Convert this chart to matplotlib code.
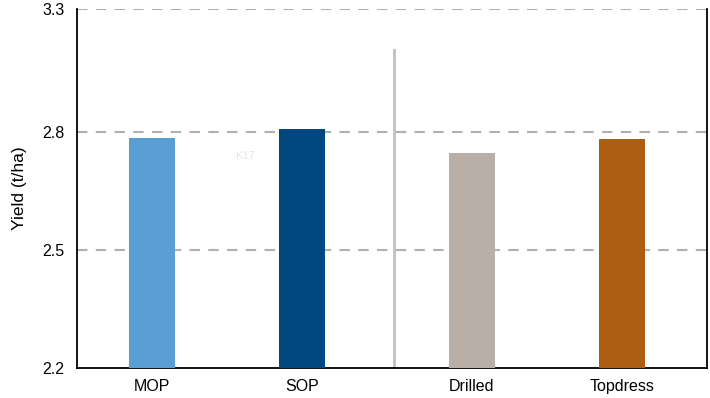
import numpy as np
import matplotlib.pyplot as plt

plt.rcParams['font.family'] = ['Liberation Sans', 'DejaVu Sans']

# ---------------- data ----------------
categories = ["MOP", "SOP", "Drilled", "Topdress"]
yields = [2.785, 2.808, 2.747, 2.782]
colors = ["#599fd4", "#00467f", "#b9afa6", "#ab5e11"]
tick_values = [2.2, 2.5, 2.8, 3.113]
tick_labels = ["2.2", "2.5", "2.8", "3.3"]

# two groups of two bars, with a wider gap between groups
x = np.array([0, 1, 2.133, 3.133])

fig = plt.figure(figsize=(7.1, 3.98), dpi=100)
ax = fig.add_axes([0.1085, 0.0754, 0.8873, 0.9016])

ax.bar(x, yields, width=0.307, color=colors, bottom=0, zorder=3)

ax.set_ylim(2.2, 3.113)
ax.set_xlim(-0.5, 3.7)
ax.set_yticks(tick_values)
ax.set_yticklabels(tick_labels, fontsize=11.5)
ax.set_xticks(x)
ax.set_xticklabels(categories, fontsize=11.5)
ax.tick_params(length=0)
ax.tick_params(axis='y', pad=9)
ax.tick_params(axis='x', pad=8)

for v in tick_values[1:]:
    ax.axhline(v, color="#b0b0b0", lw=1.5, ls=(0, (5, 4)), zorder=1)

# separator between the two groups
ax.plot([1.613, 1.613], [2.2, 3.01], color="#c0c0c0", lw=2, zorder=2)

ax.text(0.62, 2.74, "K17", fontsize=8, color="#e6e6e6", ha="center", va="center")

ax.spines['top'].set_visible(False)
for s in ['left', 'bottom', 'right']:
    ax.spines[s].set_color("black")
    ax.spines[s].set_linewidth(1.3)

ax.set_ylabel("Yield (t/ha)", fontsize=12.5, labelpad=11)

fig.savefig("out.png", dpi=100)
